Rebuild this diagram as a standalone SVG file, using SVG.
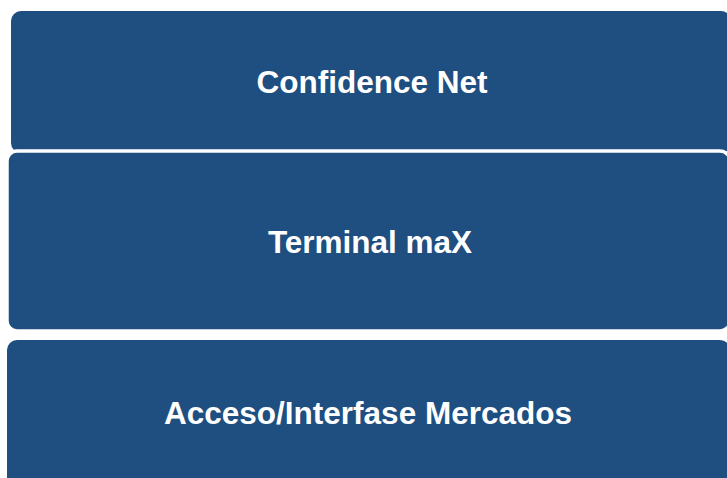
<svg xmlns="http://www.w3.org/2000/svg" width="727" height="478" viewBox="0 0 727 478">
<style>
.box{fill:#1F4E80;}
.lbl{fill:#FFFFFF;font-family:"Liberation Sans",Arial,sans-serif;font-weight:bold;font-size:31.5px;text-anchor:middle;}
</style>
<rect width="727" height="478" fill="#FFFFFF"/>
<g id="confidence-net">
<rect class="box" x="11" y="11" width="720" height="142" rx="10" ry="10"/>
<text class="lbl" x="372" y="93">Confidence Net</text>
</g>
<g id="terminal-max">
<rect class="box" x="7" y="151" width="723" height="180" rx="10" ry="10" stroke="#FFFFFF" stroke-width="3.5"/>
<text class="lbl" x="370" y="253">Terminal maX</text>
</g>
<g id="acceso-mercados">
<rect class="box" x="7" y="340" width="723" height="150" rx="10" ry="10"/>
<text class="lbl" x="368" y="424">Acceso/Interfase Mercados</text>
</g>
<g id="connectors"/>
</svg>
